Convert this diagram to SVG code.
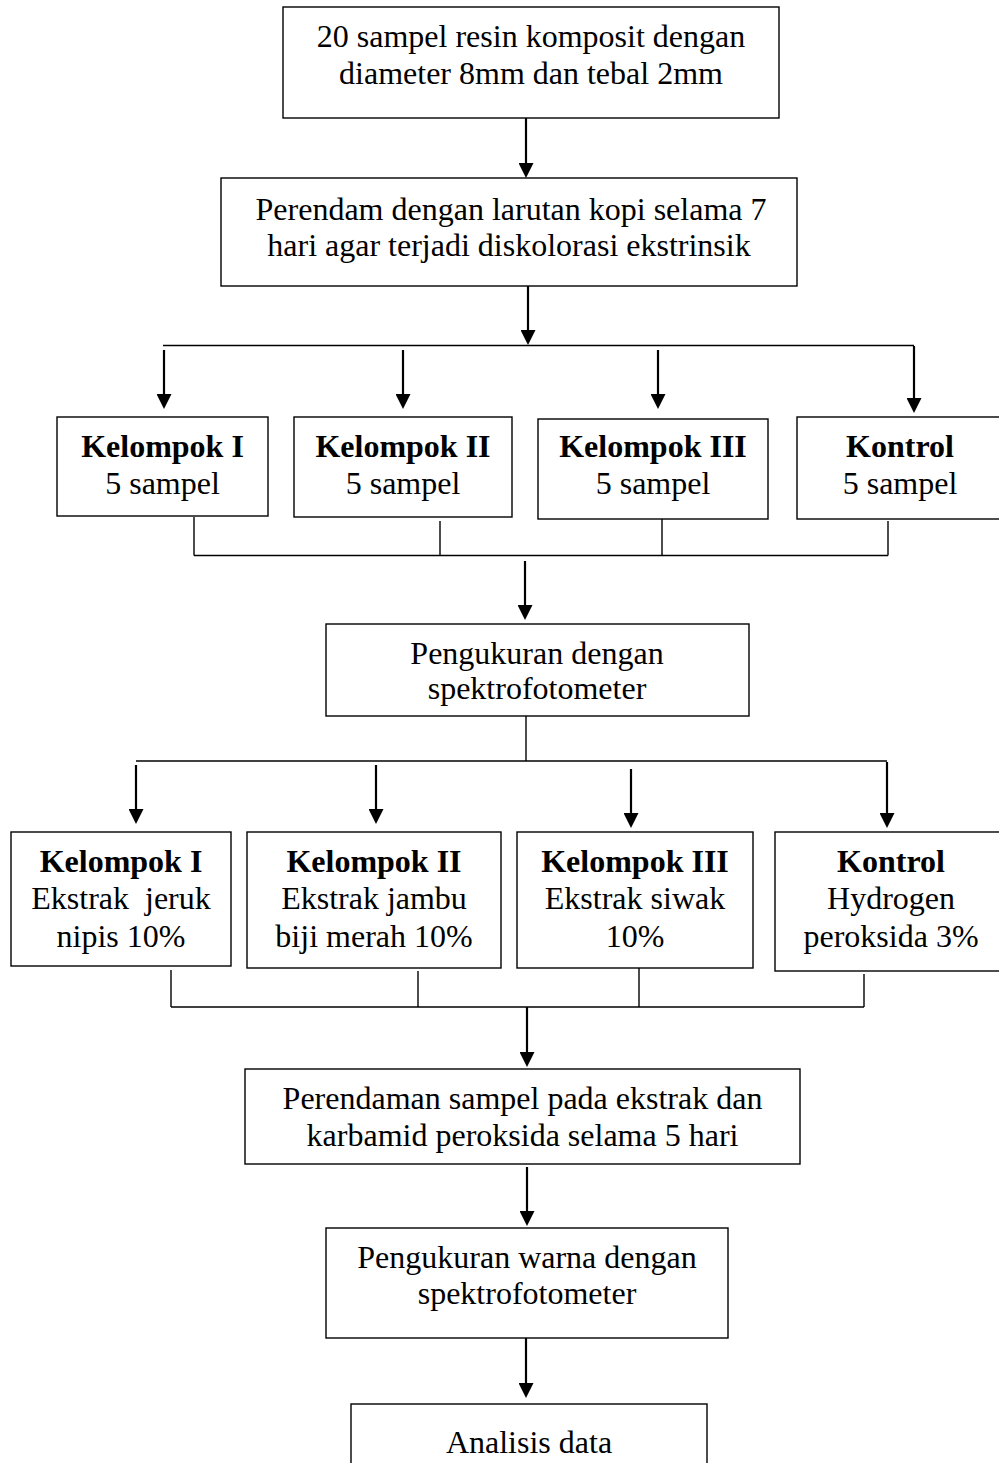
<svg xmlns="http://www.w3.org/2000/svg" width="999" height="1463" viewBox="0 0 999 1463">
<style>
.bx{fill:#fff;stroke:#000;stroke-width:1.4}
.t{font-family:"Liberation Serif","Times New Roman",serif;font-size:32px;text-anchor:middle;fill:#000}
.b{font-weight:bold}
.ln{stroke:#000;stroke-width:1.4;fill:none}
.ar{stroke:#000;stroke-width:2.2;fill:none;marker-end:url(#ah)}
</style>
<defs>
<marker id="ah" markerUnits="userSpaceOnUse" markerWidth="16" markerHeight="15" refX="11" refY="7.5" orient="auto">
<path d="M0,0 L15,7.5 L0,15 z" fill="#000"/>
</marker>
</defs>
<rect width="999" height="1463" fill="#fff"/>
<g id="connectors">
<line class="ar" x1="526" y1="118" x2="526" y2="174"/>
<line class="ar" x1="528" y1="286" x2="528" y2="341"/>
<line class="ln" x1="163" y1="345.5" x2="914" y2="345.5"/>
<line class="ar" x1="164" y1="350" x2="164" y2="405"/>
<line class="ar" x1="403" y1="350" x2="403" y2="405"/>
<line class="ar" x1="658" y1="350" x2="658" y2="405"/>
<line class="ar" x1="914" y1="346" x2="914" y2="409"/>
<line class="ln" x1="194" y1="517" x2="194" y2="555.5"/>
<line class="ln" x1="440" y1="521" x2="440" y2="555.5"/>
<line class="ln" x1="662" y1="519" x2="662" y2="555.5"/>
<line class="ln" x1="888" y1="521" x2="888" y2="555.5"/>
<line class="ln" x1="194" y1="555.5" x2="888" y2="555.5"/>
<line class="ar" x1="525" y1="561" x2="525" y2="616"/>
<line class="ln" x1="526" y1="716" x2="526" y2="761"/>
<line class="ln" x1="136" y1="761" x2="887" y2="761"/>
<line class="ar" x1="136" y1="765" x2="136" y2="820"/>
<line class="ar" x1="376" y1="765" x2="376" y2="820"/>
<line class="ar" x1="631" y1="769" x2="631" y2="824"/>
<line class="ar" x1="887" y1="762" x2="887" y2="824"/>
<line class="ln" x1="171" y1="970" x2="171" y2="1007"/>
<line class="ln" x1="418" y1="971" x2="418" y2="1007"/>
<line class="ln" x1="639" y1="968" x2="639" y2="1007"/>
<line class="ln" x1="864" y1="974" x2="864" y2="1007"/>
<line class="ln" x1="171" y1="1007" x2="864" y2="1007"/>
<line class="ar" x1="527" y1="1007" x2="527" y2="1063"/>
<line class="ar" x1="527" y1="1167" x2="527" y2="1222"/>
<line class="ar" x1="526" y1="1338" x2="526" y2="1394"/>
</g>
<g id="n1">
<rect class="bx" x="283" y="7" width="496" height="111"/>
<text class="t" x="531" y="47">20 sampel resin komposit dengan</text>
<text class="t" x="531" y="84">diameter 8mm dan tebal 2mm</text>
</g>
<g id="n2">
<rect class="bx" x="221" y="178" width="576" height="108"/>
<text class="t" x="511" y="220">Perendam dengan larutan kopi selama 7</text>
<text class="t" x="509" y="256">hari agar terjadi diskolorasi ekstrinsik</text>
</g>
<g id="g1a">
<rect class="bx" x="57" y="417" width="211" height="99"/>
<text class="t b" x="162.5" y="457">Kelompok I</text>
<text class="t" x="162.5" y="494">5 sampel</text>
</g>
<g id="g1b">
<rect class="bx" x="294" y="417" width="218" height="100"/>
<text class="t b" x="403" y="457">Kelompok II</text>
<text class="t" x="403" y="494">5 sampel</text>
</g>
<g id="g1c">
<rect class="bx" x="538" y="419" width="230" height="100"/>
<text class="t b" x="653" y="457">Kelompok III</text>
<text class="t" x="653" y="494">5 sampel</text>
</g>
<g id="g1d">
<rect class="bx" x="797" y="417" width="206" height="102"/>
<text class="t b" x="900" y="457">Kontrol</text>
<text class="t" x="900" y="494">5 sampel</text>
</g>
<g id="n3">
<rect class="bx" x="326" y="624" width="423" height="92"/>
<text class="t" x="537" y="664">Pengukuran dengan</text>
<text class="t" x="537" y="699">spektrofotometer</text>
</g>
<g id="g2a">
<rect class="bx" x="11" y="832" width="220" height="134"/>
<text class="t b" x="121" y="872">Kelompok I</text>
<text class="t" x="121" y="909" xml:space="preserve">Ekstrak  jeruk</text>
<text class="t" x="121" y="947">nipis 10%</text>
</g>
<g id="g2b">
<rect class="bx" x="247" y="832" width="254" height="136"/>
<text class="t b" x="374" y="872">Kelompok II</text>
<text class="t" x="374" y="909">Ekstrak jambu</text>
<text class="t" x="374" y="947">biji merah 10%</text>
</g>
<g id="g2c">
<rect class="bx" x="517" y="832" width="236" height="136"/>
<text class="t b" x="635" y="872">Kelompok III</text>
<text class="t" x="635" y="909">Ekstrak siwak</text>
<text class="t" x="635" y="947">10%</text>
</g>
<g id="g2d">
<rect class="bx" x="775" y="832" width="232" height="139"/>
<text class="t b" x="891" y="872">Kontrol</text>
<text class="t" x="891" y="909">Hydrogen</text>
<text class="t" x="891" y="947">peroksida 3%</text>
</g>
<g id="n4">
<rect class="bx" x="245" y="1069" width="555" height="95"/>
<text class="t" x="522.5" y="1109">Perendaman sampel pada ekstrak dan</text>
<text class="t" x="522.5" y="1146">karbamid peroksida selama 5 hari</text>
</g>
<g id="n5">
<rect class="bx" x="326" y="1228" width="402" height="110"/>
<text class="t" x="527" y="1268">Pengukuran warna dengan</text>
<text class="t" x="527" y="1304">spektrofotometer</text>
</g>
<g id="n6">
<rect class="bx" x="351" y="1404" width="356" height="70"/>
<text class="t" x="529" y="1453">Analisis data</text>
</g>
</svg>
